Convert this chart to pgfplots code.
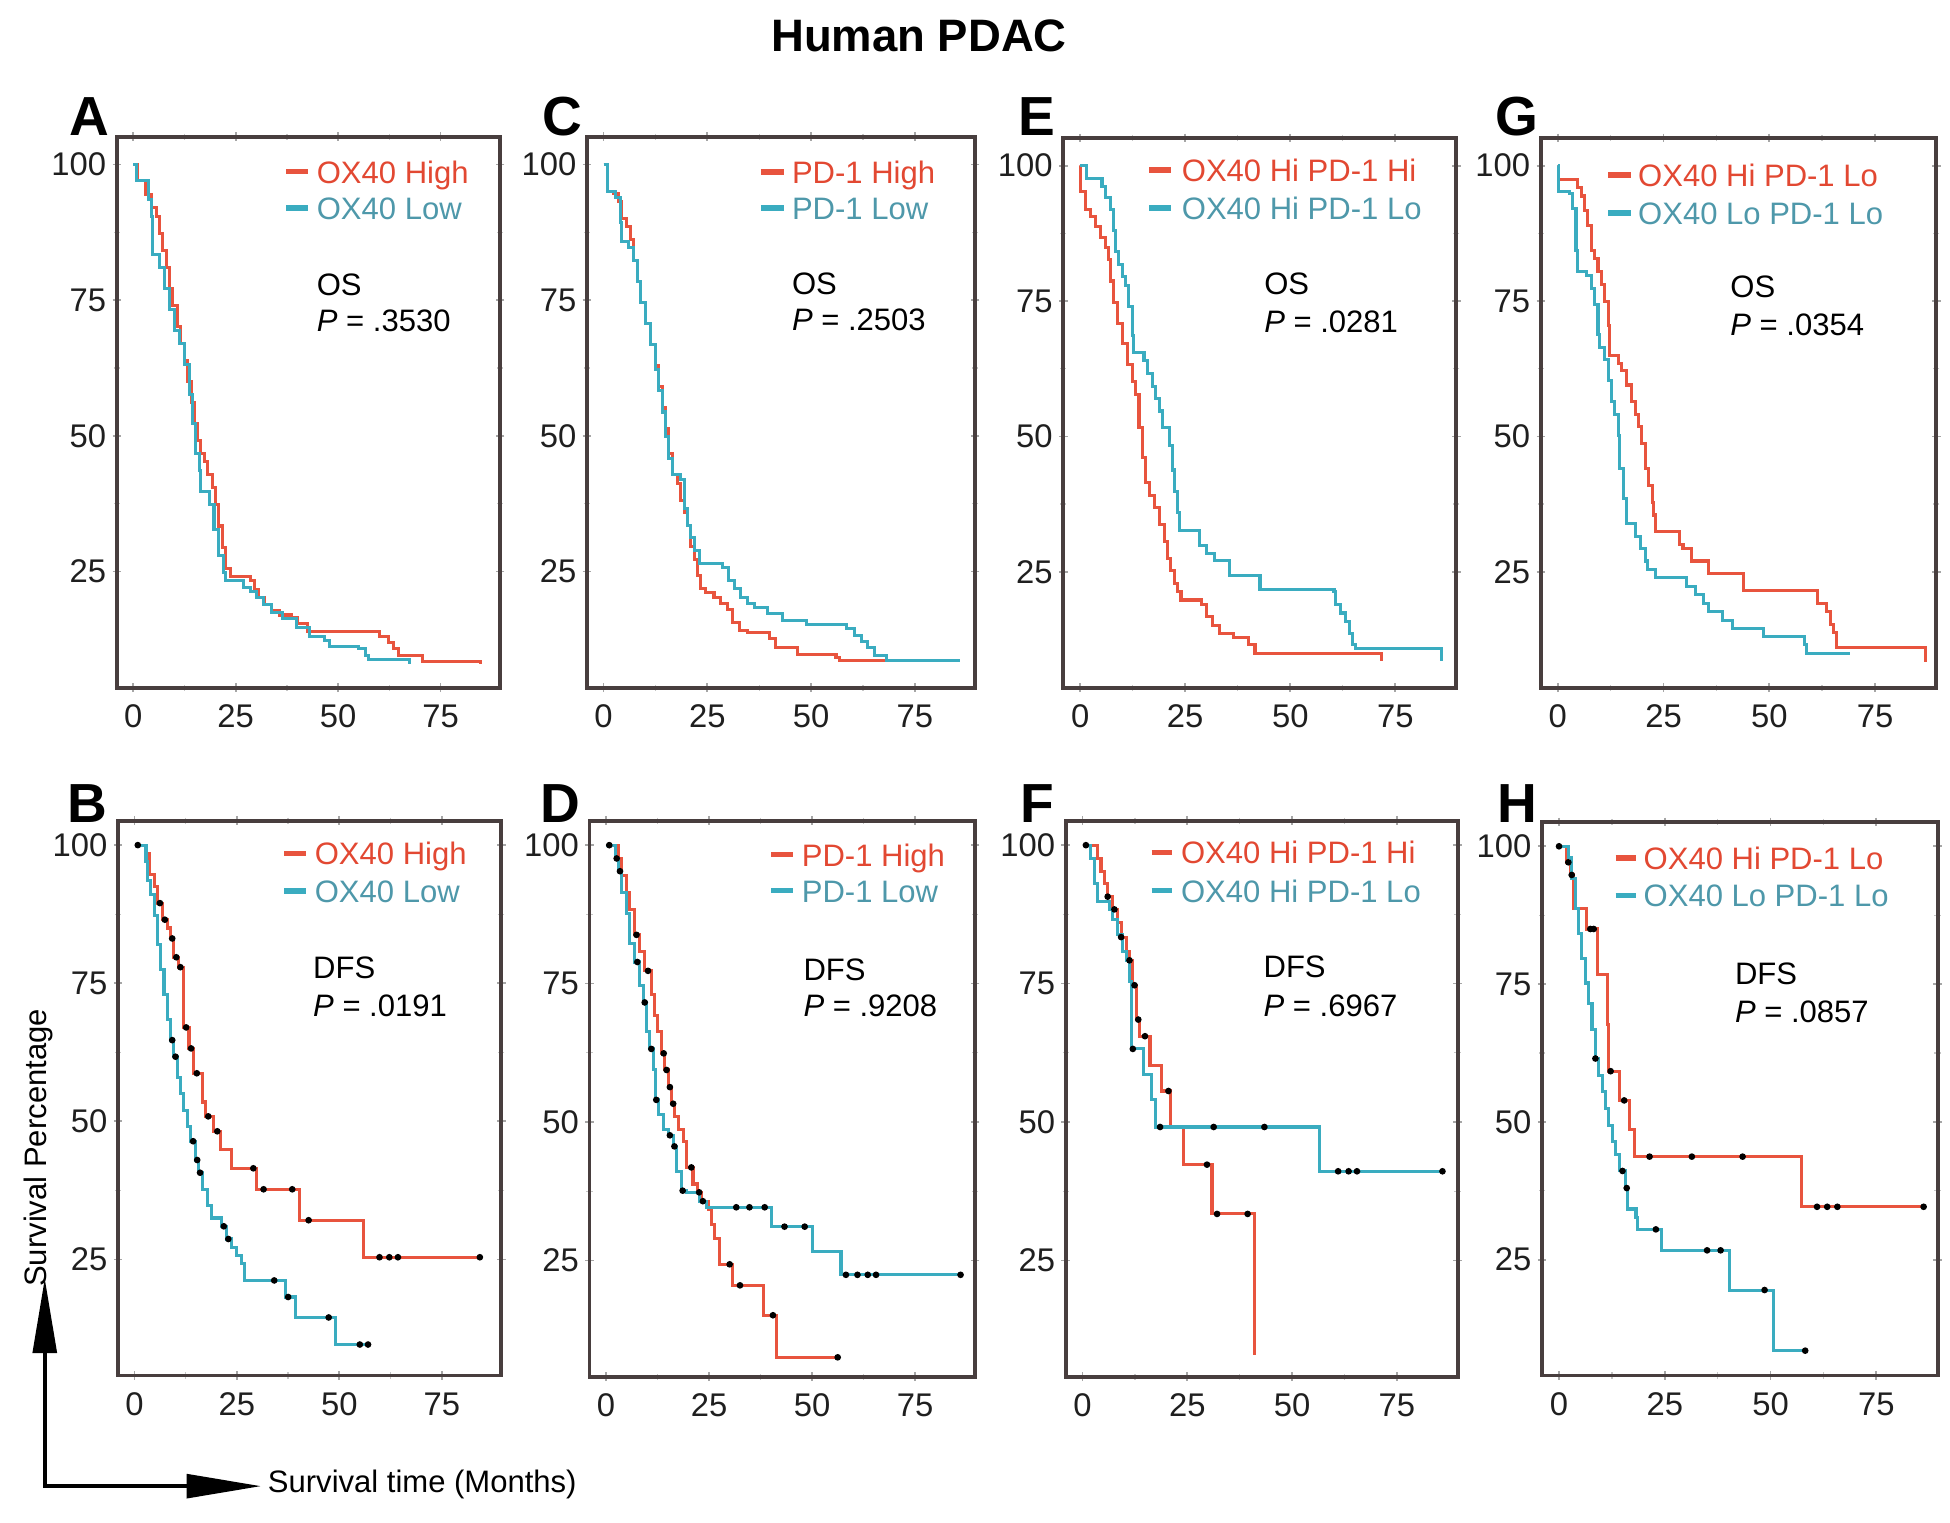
\documentclass[border=0pt]{standalone}
\usepackage{fontspec}
\setmainfont{Liberation Sans}
\usepackage{pgfplots}
\pgfplotsset{compat=1.18}
\usetikzlibrary{arrows.meta}

\definecolor{kmred}{RGB}{232,84,62}
\definecolor{kmblue}{RGB}{58,172,192}
\definecolor{txtred}{RGB}{226,72,50}
\definecolor{txtblue}{RGB}{78,152,170}
\definecolor{boxgray}{RGB}{72,62,62}

\newcommand{\legfont}{\fontsize{7.1}{8.5}\selectfont}

\pgfplotsset{
  km/.style={scale only axis, anchor=south west, xmin=-4, xmax=89.5,
    xtick={0,25,50,75}, ytick={25,50,75,100}, minor tick num=1,
    axis line style={draw=boxgray, line width=0.9pt},
    tick style={draw=gray!70, line width=0.4pt},
    minor tick style={draw=gray!45, line width=0.3pt},
    major tick length=0.7mm, minor tick length=0.5mm, tick align=center,
    ticklabel style={font=\fontsize{7.5}{8.5}\selectfont, text=black!88},
    /pgf/number format/assume math mode=true,
    yticklabel style={inner sep=0.4pt, xshift=-0.3mm},
    xticklabel style={inner sep=1pt, yshift=-0.6mm},
    clip=false},
  kmtop/.style={ymin=3.6, ymax=105.1},
  kmbot/.style={ymin=4, ymax=104.4},
  kmR/.style={const plot, color=kmred, line width=0.7pt, no marks},
  kmB/.style={const plot, color=kmblue, line width=0.7pt, no marks},
  cens/.style={only marks, mark=*, mark size=0.55pt, color=black},
}

\newcommand{\leg}[7]{%
  \draw[kmred, line width=1.3pt] (axis cs:#1,#4) -- (axis cs:#2,#4);
  \draw[kmblue, line width=1.3pt] (axis cs:#1,#5) -- (axis cs:#2,#5);
  \node[anchor=mid west, inner sep=0pt, text=txtred, font=\legfont] at (axis cs:#3,#4) {#6};
  \node[anchor=mid west, inner sep=0pt, text=txtblue, font=\legfont] at (axis cs:#3,#5) {#7};}
\newcommand{\stat}[5]{%
  \node[anchor=mid west, inner sep=0pt, font=\legfont] at (axis cs:#1,#2) {#4};
  \node[anchor=mid west, inner sep=0pt, font=\legfont] at (axis cs:#1,#3) {\textit{P} = #5};}

\begin{document}
\begin{tikzpicture}
\useasboundingbox (0,0) rectangle (156.8mm,-122.4mm);

% ---------------- A ----------------
\begin{axis}[km, kmtop, at={(9.4mm,-55.3mm)}, width=30.8mm, height=44.3mm]
\addplot[kmR] coordinates {(0,100) (1.0,97.1) (3.0,94.4) (4.4,92.0) (5.6,90.5) (6.4,87.3) (7.2,84.2) (8.0,81.1) (8.8,77.2) (9.6,74.0) (10.7,70.2) (11.5,67.0) (12.4,63.9) (13.3,60.0) (14.1,56.1) (14.9,52.2) (15.7,49.1) (16.5,46.7) (17.4,45.2) (18.2,42.8) (19.3,40.5) (20.1,37.3) (20.9,33.4) (21.7,29.5) (22.5,25.6) (23.7,24.1) (28.5,23.3) (29.5,21.7) (30.5,20.2) (32.1,19.0) (33.7,17.8) (35.7,17.0) (38.6,16.6) (40.2,15.5) (42.6,13.9) (60.2,13.1) (62.2,12.0) (63.5,10.8) (64.7,9.6) (70.7,8.4) (84.7,8.0)};
\addplot[kmB] coordinates {(0,100) (0.8,97.1) (3.6,93.6) (4.4,90.5) (4.6,83.4) (6.4,81.1) (7.6,77.2) (8.8,73.3) (10.0,69.4) (11.2,67.0) (12.4,63.1) (13.7,57.7) (14.5,52.2) (15.3,46.7) (16.1,43.6) (16.5,39.7) (18.5,37.3) (19.7,32.7) (20.9,28.0) (22.1,24.8) (22.5,23.3) (26.9,22.1) (28.5,21.3) (30.1,20.2) (31.7,19.0) (33.7,17.4) (36.5,16.3) (39.8,14.7) (43.0,13.1) (46.6,12.3) (47.8,11.2) (55.0,10.8) (56.6,9.6) (57.4,8.8) (67.5,8.0)};
\leg{37.3}{42.6}{44.6}{98.7}{92.0}{OX40 High}{OX40 Low}
\stat{44.6}{78.0}{71.3}{OS}{.3530}
\end{axis}

% ---------------- C ----------------
\begin{axis}[km, kmtop, at={(47.2mm,-55.3mm)}, width=31.2mm, height=44.3mm]
\addplot[kmR] coordinates {(0,100) (1.0,95.1) (2.4,94.7) (3.6,93.2) (4.4,90.1) (5.6,88.5) (6.5,86.2) (7.3,82.3) (8.1,78.4) (8.9,74.6) (10.1,70.7) (11.3,66.8) (12.5,62.9) (13.3,59.1) (14.1,55.2) (14.9,51.3) (15.7,46.7) (16.5,42.8) (17.7,41.2) (18.5,38.1) (19.4,35.8) (20.2,33.5) (21.0,29.6) (21.8,27.3) (22.6,24.2) (23.4,21.9) (24.6,21.1) (26.6,20.3) (28.2,19.1) (29.8,18.0) (31.0,15.7) (32.7,14.1) (34.7,13.7) (39.9,12.6) (41.5,11.0) (46.8,9.8) (56.0,9.1) (56.9,8.7) (71.8,8.3)};
\addplot[kmB] coordinates {(0,100) (1.0,95.1) (2.8,94.0) (4.0,89.3) (4.4,85.8) (6.0,84.7) (7.3,82.3) (8.1,78.4) (9.0,74.6) (10.1,70.7) (11.3,66.8) (12.5,62.2) (13.3,58.3) (14.1,54.4) (14.9,49.8) (15.7,45.9) (16.5,42.8) (18.5,42.0) (19.4,36.6) (20.2,33.5) (21.0,31.2) (21.8,28.8) (23.0,26.5) (28.6,25.7) (30.2,23.4) (31.5,21.9) (33.1,20.3) (34.7,19.1) (36.3,18.4) (39.5,17.2) (43.1,16.0) (48.8,15.3) (58.5,14.5) (60.5,13.3) (62.1,12.2) (63.7,11.0) (65.3,9.5) (68.1,8.7) (85.9,8.7)};
\leg{37.9}{43.5}{45.2}{98.6}{92.0}{PD-1 High}{PD-1 Low}
\stat{45.2}{78.1}{71.5}{OS}{.2503}
\end{axis}

% ---------------- E ----------------
\begin{axis}[km, kmtop, at={(85.5mm,-55.3mm)}, width=31.6mm, height=44.2mm]
\addplot[kmR] coordinates {(0,100) (0.2,95.3) (1.2,91.9) (2.4,90.7) (3.6,88.8) (4.8,86.8) (6.0,84.9) (6.8,82.6) (7.2,78.7) (8.0,74.8) (8.8,70.9) (10.0,67.1) (11.2,63.2) (12.4,60.1) (13.2,57.8) (14.0,51.6) (14.8,46.1) (15.6,41.5) (16.4,39.1) (17.6,36.8) (18.8,33.7) (20.0,30.6) (20.8,27.5) (21.6,25.2) (22.4,22.9) (23.2,21.3) (24.0,19.8) (28.8,19.0) (30.0,16.7) (31.6,15.1) (33.2,13.6) (36.4,12.8) (40.0,11.6) (41.6,9.9) (71.6,8.6)};
\addplot[kmB] coordinates {(0,100) (1.6,97.7) (5.2,96.1) (6.0,94.2) (7.2,91.9) (8.0,88.0) (8.4,84.1) (9.2,81.8) (10.0,79.5) (10.8,77.9) (11.6,74.0) (12.4,68.6) (12.8,65.5) (15.2,64.0) (16.0,61.6) (17.2,59.3) (18.0,57.0) (18.8,54.7) (19.6,51.6) (21.2,48.4) (22.0,43.8) (22.4,39.9) (23.2,36.0) (23.6,32.6) (28.4,29.8) (30.0,28.3) (32.0,27.1) (35.6,24.4) (42.8,21.7) (60.4,21.3) (60.8,19.0) (62.0,17.4) (63.2,15.9) (64.0,13.6) (64.8,11.6) (65.6,10.9) (86.0,8.5)};
\leg{16.4}{21.6}{24.0}{99.2}{92.2}{OX40 Hi PD-1 Hi}{OX40 Hi PD-1 Lo}
\stat{43.6}{78.3}{71.3}{OS}{.0281}
\end{axis}

% ---------------- G ----------------
\begin{axis}[km, kmtop, at={(123.9mm,-55.3mm)}, width=31.8mm, height=44.2mm]
\addplot[kmR] coordinates {(0,100) (0.2,97.5) (4.7,96.0) (5.5,94.4) (6.3,91.7) (7.1,89.0) (7.9,84.3) (8.7,82.8) (9.5,80.5) (10.3,78.1) (11.1,75.0) (11.9,70.4) (12.3,65.0) (14.3,63.4) (15.1,62.2) (16.3,59.5) (17.5,56.4) (18.3,54.1) (19.1,51.8) (19.9,48.7) (20.7,44.0) (21.5,40.9) (22.3,37.8) (22.7,35.5) (23.1,32.4) (28.8,30.1) (29.6,29.3) (31.7,27.0) (35.7,24.7) (43.8,21.6) (61.5,19.2) (63.6,17.7) (64.4,15.3) (65.2,13.8) (66.0,11.0) (86.9,8.4)};
\addplot[kmB] coordinates {(0,100) (0.2,95.2) (2.7,94.8) (3.5,92.1) (4.3,84.3) (4.7,80.5) (6.7,79.7) (7.9,77.4) (8.7,74.3) (9.5,68.8) (9.9,66.5) (11.1,64.2) (11.9,60.3) (12.7,56.4) (13.5,54.1) (14.3,50.2) (14.7,44.0) (15.5,38.6) (16.3,34.0) (18.3,31.6) (19.5,29.3) (20.7,27.0) (21.2,25.4) (23.2,23.9) (30.5,22.3) (32.5,20.8) (34.5,19.2) (35.7,17.7) (39.0,16.1) (41.4,14.6) (48.6,13.0) (58.3,11.5) (58.8,9.9) (69.2,9.9)};
\leg{11.9}{17.2}{18.8}{98.3}{91.3}{OX40 Hi PD-1 Lo}{OX40 Lo PD-1 Lo}
\stat{40.6}{77.8}{70.8}{OS}{.0354}
\end{axis}

% ---------------- B ----------------
\begin{axis}[km, kmbot, at={(9.5mm,-110.6mm)}, width=30.8mm, height=44.6mm]
\addplot[kmR] coordinates {(0,100) (2.8,98.5) (3.6,94.7) (4.8,92.5) (5.6,89.5) (6.8,86.5) (8.0,85.0) (8.8,83.1) (9.6,79.7) (10.8,77.9) (12.0,67.0) (13.3,63.2) (14.5,58.7) (16.5,53.5) (17.3,50.9) (19.3,48.2) (20.9,44.9) (23.7,41.5) (29.7,37.7) (40.2,32.1) (55.8,25.4) (84.3,25.4)};
\addplot[kmB] coordinates {(0,100) (2.8,97.0) (3.2,93.6) (4.0,91.0) (4.8,87.2) (5.6,82.0) (6.4,77.5) (7.2,73.0) (8.0,68.5) (8.8,64.7) (9.6,61.7) (10.4,58.0) (11.2,55.0) (12.0,52.0) (12.9,49.0) (13.7,46.4) (14.9,43.0) (15.7,40.7) (16.5,37.7) (17.7,34.7) (18.9,32.5) (21.3,31.0) (22.5,28.7) (23.7,27.2) (24.9,25.7) (26.1,24.2) (26.9,21.2) (36.9,18.2) (39.3,14.5) (49.0,9.6) (57.0,9.6)};
\addplot[cens] coordinates {(0.8,100) (6.2,89.5) (7.4,86.5) (9.2,83.1) (10.2,79.7) (11.2,77.9) (12.6,67.0) (13.8,63.2) (15.2,58.7) (18.0,50.9) (20.2,48.2) (29.0,41.5) (31.5,37.7) (38.5,37.7) (42.5,32.1) (59.8,25.4) (62.2,25.4) (64.3,25.4) (84.3,25.4)};
\addplot[cens] coordinates {(9.2,64.7) (10.0,61.7) (14.3,46.4) (15.3,43.0) (16.0,40.7) (21.8,31.0) (22.9,28.7) (34.1,21.2) (37.5,18.2) (47.4,14.5) (55.0,9.6) (57.0,9.6)};
\leg{36.5}{41.8}{43.8}{98.5}{91.7}{OX40 High}{OX40 Low}
\stat{43.4}{77.9}{71.1}{DFS}{.0191}
\end{axis}

% ---------------- D ----------------
\begin{axis}[km, kmbot, at={(47.4mm,-110.7mm)}, width=31.0mm, height=44.7mm]
\addplot[kmR] coordinates {(0,100) (3.0,97.6) (3.8,94.5) (5.0,91.5) (5.8,88.4) (7.0,83.8) (8.2,80.8) (9.4,77.3) (11.0,73.1) (11.8,69.3) (12.6,66.3) (13.5,62.4) (14.3,59.4) (15.1,56.3) (15.9,53.3) (16.7,51.0) (17.5,48.7) (18.7,46.4) (19.5,41.8) (21.1,38.8) (22.3,37.3) (23.1,35.7) (24.8,34.2) (25.6,31.5) (26.4,28.9) (27.6,24.3) (30.8,20.5) (38.1,15.1) (41.3,7.5) (56.2,7.5)};
\addplot[kmB] coordinates {(0,100) (2.2,97.6) (3.0,95.3) (3.8,91.5) (5.0,87.6) (5.8,82.3) (7.0,78.9) (8.2,74.7) (9.0,71.6) (9.8,66.3) (10.6,63.2) (11.5,59.4) (11.9,54.0) (12.7,51.4) (13.9,48.7) (15.1,47.6) (16.3,45.6) (17.1,41.1) (18.3,37.6) (19.5,37.3) (22.7,35.7) (24.4,34.6) (40.1,31.1) (50.2,26.6) (57.0,22.4) (86.0,22.4)};
\addplot[cens] coordinates {(0.8,100) (7.4,83.8) (10.2,77.3) (14.0,62.4) (14.7,59.4) (15.5,56.3) (16.3,53.3) (20.7,41.8) (22.6,37.3) (23.5,35.7) (30.0,24.3) (32.5,20.5) (40.5,15.1) (56.2,7.5)};
\addplot[cens] coordinates {(2.6,97.6) (3.4,95.3) (7.6,78.9) (9.4,71.6) (11.0,63.2) (12.2,54.0) (15.5,47.6) (16.6,45.6) (18.6,37.6) (31.6,34.6) (34.8,34.6) (38.5,34.6) (43.3,31.1) (48.2,31.1) (58.2,22.4) (61.0,22.4) (63.5,22.4) (65.5,22.4) (86.0,22.4)};
\leg{40.1}{45.3}{47.3}{98.3}{91.8}{PD-1 High}{PD-1 Low}
\stat{47.7}{77.7}{71.2}{DFS}{.9208}
\end{axis}

% ---------------- F ----------------
\begin{axis}[km, kmbot, at={(85.7mm,-110.7mm)}, width=31.5mm, height=44.7mm]
\addplot[kmR] coordinates {(0,100) (3.6,97.6) (4.4,95.3) (5.2,93.0) (6.0,90.7) (7.2,88.4) (8.4,86.1) (9.2,83.4) (10.4,80.8) (11.2,79.2) (12.0,74.7) (12.9,68.5) (13.7,65.5) (16.1,60.2) (18.9,55.6) (20.9,49.1) (24.1,42.3) (30.9,33.4) (41.0,7.9)};
\addplot[kmB] coordinates {(0,100) (2.0,97.6) (2.8,93.0) (3.6,89.9) (6.4,88.4) (7.2,86.5) (8.4,83.8) (9.6,80.8) (10.4,79.2) (11.2,75.4) (11.6,63.2) (14.5,58.6) (16.5,54.0) (17.3,49.1) (56.6,41.1) (85.9,41.1)};
\addplot[cens] coordinates {(6.0,90.7) (7.6,88.4) (9.2,83.4) (11.2,79.2) (12.4,74.7) (13.3,68.5) (14.9,65.5) (20.5,55.6) (29.7,42.3) (32.1,33.4) (39.4,33.4)};
\addplot[cens] coordinates {(0.8,100) (12.0,63.2) (18.5,49.1) (31.3,49.1) (43.4,49.1) (61.0,41.1) (63.5,41.1) (65.5,41.1) (85.9,41.1)};
\leg{16.5}{21.3}{23.3}{98.7}{91.8}{OX40 Hi PD-1 Hi}{OX40 Hi PD-1 Lo}
\stat{43.0}{78.1}{71.2}{DFS}{.6967}
\end{axis}

% ---------------- H ----------------
\begin{axis}[km, kmbot, at={(124.0mm,-110.6mm)}, width=31.8mm, height=44.5mm]
\addplot[kmR] coordinates {(0,100) (1.8,97.1) (2.6,94.8) (3.4,88.8) (6.6,85.0) (9.0,76.7) (11.4,67.6) (11.8,59.2) (14.2,53.9) (16.6,48.6) (17.8,43.7) (57.4,34.6) (86.2,34.6)};
\addplot[kmB] coordinates {(0,100) (2.2,97.9) (3.0,94.1) (3.8,88.8) (4.6,84.2) (5.4,79.7) (6.2,75.2) (7.0,71.4) (7.8,66.8) (8.6,61.5) (9.4,58.5) (10.2,55.5) (11.0,52.4) (11.8,49.4) (12.6,46.4) (13.4,44.1) (14.2,41.1) (15.8,38.0) (16.2,34.2) (18.2,32.7) (18.6,30.5) (24.2,26.7) (40.2,19.5) (50.6,8.5) (58.2,8.5)};
\addplot[cens] coordinates {(0,100) (2.2,97.1) (3.0,94.8) (7.4,85.0) (8.2,85.0) (12.2,59.2) (15.4,53.9) (21.4,43.7) (31.4,43.7) (43.4,43.7) (61.0,34.6) (63.4,34.6) (65.8,34.6) (86.2,34.6)};
\addplot[cens] coordinates {(8.6,61.5) (15.0,41.1) (16.0,38.0) (22.9,30.5) (35.0,26.7) (38.2,26.7) (48.6,19.5) (58.2,8.5)};
\leg{13.4}{18.2}{19.8}{97.9}{91.1}{OX40 Hi PD-1 Lo}{OX40 Lo PD-1 Lo}
\stat{41.4}{77.0}{70.2}{DFS}{.0857}
\end{axis}

% ---------------- titles and labels ----------------
\node[font=\bfseries\fontsize{10.4}{12}\selectfont] at (73.9mm,-2.85mm) {Human PDAC};
\foreach \L/\X/\Y in {A/7.2/9.4, C/45.2/9.4, E/83.4/9.4, G/122.0/9.4, B/7.0/64.6, D/45.1/64.6, F/83.4/64.6, H/122.0/64.6}
  \node[font=\bfseries\fontsize{12.6}{14}\selectfont, inner sep=0pt] at (\X mm,-\Y mm) {\L};
\node[rotate=90, font=\fontsize{7.1}{8.5}\selectfont] at (3.1mm,-92.3mm) {Survival Percentage};
\draw[line width=0.32mm, line join=miter, {Triangle[length=6mm,width=1.9mm]}-{Triangle[length=6mm,width=1.9mm]}] (3.6mm,-102.8mm) |- (21.0mm,-119.5mm);
\node[anchor=west, inner sep=0.5pt, font=\fontsize{7.1}{8.5}\selectfont] at (21.3mm,-119.4mm) {Survival time (Months)};
\end{tikzpicture}
\end{document}
